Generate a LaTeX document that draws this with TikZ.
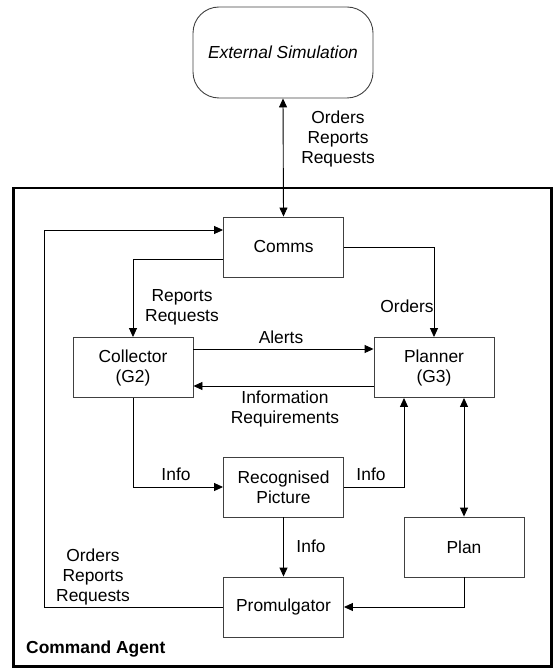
\documentclass[tikz,border=0pt]{standalone}
\usepackage{fontspec}
\setmainfont{Liberation Sans}
\usetikzlibrary{arrows.meta,calc}

\begin{document}
\begin{tikzpicture}[x=1pt,y=-1pt,
    font=\fontsize{17.4}{20}\selectfont,
    box/.style={draw=black!75,line width=0.9pt,minimum width=120pt,minimum height=60pt,align=center,inner sep=0pt},
    flow/.style={line width=0.9pt,-{Triangle[length=9pt,width=8pt]}},
    lbl/.style={align=center,inner sep=0pt}]
    \useasboundingbox (0,0) rectangle (554,668);
    % external simulation
    \node[box,minimum width=180pt,minimum height=91pt,rounded corners=26pt,font=\fontsize{17.4}{20}\selectfont\itshape] (ext) at (283,52.5) {External Simulation};
    % command agent frame
    \draw[line width=2.6pt] (13.5,188) rectangle (551.5,666.5);
    \node[lbl,anchor=west,font=\fontsize{17.4}{20}\selectfont\bfseries] (agent) at (26,649) {Command Agent};
    % boxes
    \node[box] (comms) at (283.5,247) {Comms};
    \node[box] (collector) at (133,367.5) {Collector\\(G2)};
    \node[box] (planner) at (434,367.5) {Planner\\(G3)};
    \node[box] (picture) at (283.5,487) {Recognised\\Picture};
    \node[box] (plan) at (464,547) {Plan};
    \node[box] (promulgator) at (283.5,607) {Promulgator};
    % outside link
    \draw[flow,{Triangle[length=9pt,width=8pt]}-{Triangle[length=9pt,width=8pt]}] (ext.south) -- (comms.north);
    \node[lbl] (extmsg) at (338,139) {Orders\\Reports\\Requests};
    % comms out
    \draw[flow] ($(comms.west)+(0,12)$) -| (collector.north);
    \node[lbl] (collmsg) at (182,307) {Reports\\Requests};
    \draw[flow] (comms.east) -| (planner.north);
    \node[lbl] (ordmsg) at (407,306) {Orders};
    % collector and planner
    \draw[flow] ($(collector.east)+(0,-18.5)$) -- ($(planner.west)+(0,-18.5)$);
    \node[lbl] (alerts) at (281,337) {Alerts};
    \draw[flow] ($(planner.west)+(0,18.5)$) -- ($(collector.east)+(0,18.5)$);
    \node[lbl] (inforeq) at (285,409) {Information\\Requirements};
    % recognised picture
    \draw[flow] (collector.south) |- (picture.west);
    \node[lbl] (info1) at (176,474) {Info};
    \draw[flow] (picture.east) -| ($(planner.south)+(-30,0)$);
    \node[lbl] (info2) at (371,474) {Info};
    \draw[flow] (picture.south) -- (promulgator.north);
    \node[lbl] (info3) at (311,546) {Info};
    % plan
    \draw[flow,{Triangle[length=9pt,width=8pt]}-{Triangle[length=9pt,width=8pt]}] (plan.north |- planner.south) -- (plan.north);
    \draw[flow] (plan.south) |- (promulgator.east);
    % back to comms
    \coordinate (corner) at (44,607);
    \draw[flow] (promulgator.west) -- (corner) |- ($(comms.west)+(0,-17)$);
    \node[lbl] (backmsg) at (93,577) {Orders\\Reports\\Requests};
\end{tikzpicture}
\end{document}
